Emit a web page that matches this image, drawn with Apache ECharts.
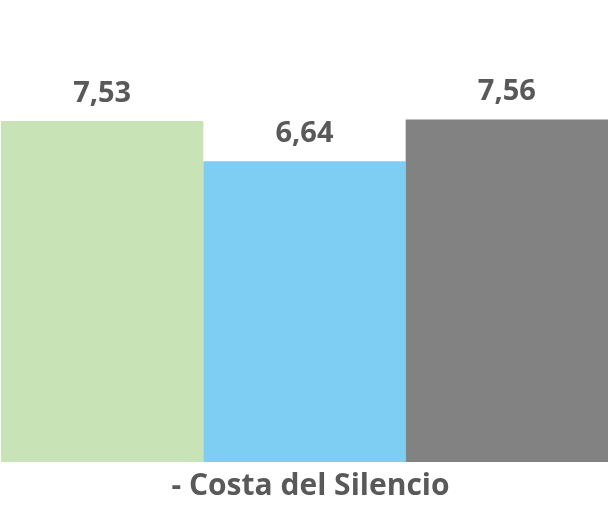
<!DOCTYPE html>
<html>
<head>
<meta charset="utf-8">
<style>
  html, body { margin: 0; padding: 0; background: #fff; }
  #chart { width: 615px; height: 505px; }
</style>
<script src="https://cdn.jsdelivr.net/npm/echarts@6/dist/echarts.min.js"></script>
</head>
<body>
<div id="chart"></div>
<script>
// data
const categories = ['- Costa del Silencio'];
const seriesNames = ['Serie 1', 'Serie 2', 'Serie 3'];
const values1 = [7.53];
const values2 = [6.64];
const values3 = [7.56];
const colors = ['#C8E3B6', '#7ECEF4', '#828282'];

const chart = echarts.init(document.getElementById('chart'));

const fmt = p => p.value.toFixed(2).replace('.', ',');

const makeSeries = (name, data, color) => ({
  name: name,
  type: 'bar',
  data: data,
  barGap: '0%',
  barCategoryGap: '0%',
  itemStyle: { color: color },
  label: {
    show: true,
    position: 'top',
    distance: 13,
    formatter: fmt,
    color: '#595959',
    fontFamily: 'Open Sans',
    fontWeight: 'bold',
    fontSize: 29
  }
});

chart.setOption({
  animation: false,
  grid: { left: 1, right: 7, top: 9, bottom: 43 },
  xAxis: {
    type: 'category',
    data: categories,
    axisLine: { show: false },
    axisTick: { show: false },
    axisLabel: {
      margin: 9,
      padding: [0, 0, 0, 12],
      color: '#595959',
      fontFamily: 'Open Sans',
      fontWeight: 'bold',
      fontSize: 30
    }
  },
  yAxis: {
    type: 'value',
    min: 0,
    max: 10,
    show: false,
    splitLine: { show: false }
  },
  series: [
    makeSeries(seriesNames[0], values1, colors[0]),
    makeSeries(seriesNames[1], values2, colors[1]),
    makeSeries(seriesNames[2], values3, colors[2])
  ]
});
</script>
</body>
</html>
